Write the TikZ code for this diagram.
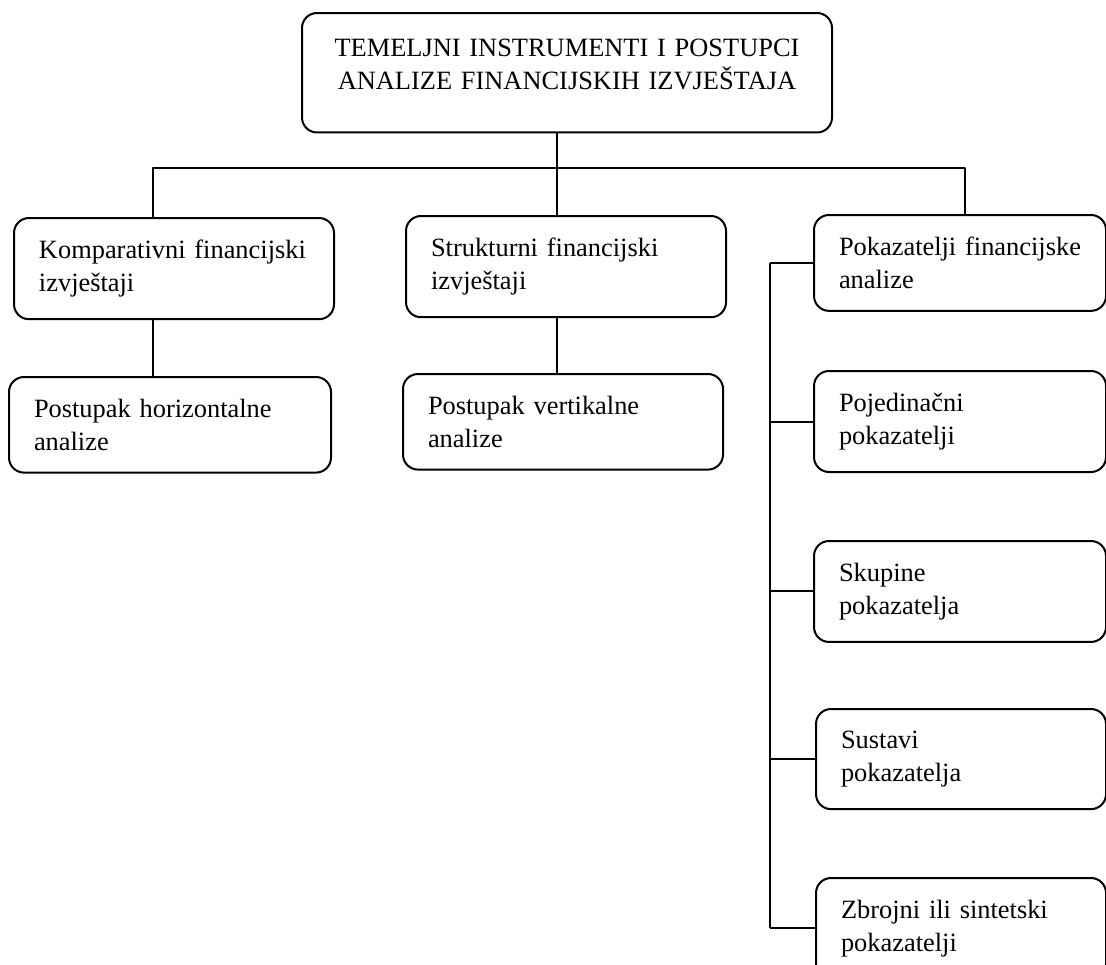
\documentclass[tikz,border=0pt]{standalone}
\usepackage{fontspec}
\setmainfont{Liberation Serif}
\tikzset{okvir/.style={draw, rounded corners=7.5pt, anchor=north west, align=left, inner xsep=12.5pt, inner ysep=11pt}}
\begin{document}
\begin{tikzpicture}[x=0.5pt, y=-0.5pt, line width=1pt, line join=round, font=\fontsize{13.2}{16.5}\selectfont]
\useasboundingbox (0,0) rectangle (1106,964);
\clip (0,0) rectangle (1106,964);
\node[okvir, align=center, text width=245pt, inner xsep=10pt, inner ysep=13pt] (vrh) at (301,12) {TEMELJNI INSTRUMENTI I POSTUPCI\\ANALIZE FINANCIJSKIH IZVJEŠTAJA\rule[-8.5pt]{0pt}{8.5pt}};
\node[okvir, text width=135pt] (komp) at (13,217) {Komparativni financijski\\izvještaji};
\node[okvir, text width=135pt] (strukt) at (405,215) {Strukturni financijski\\izvještaji};
\node[okvir, text width=121pt] (pokaz) at (813,214) {Pokazatelji financijske\\analize};
\node[okvir, text width=136pt] (horiz) at (8,376) {Postupak horizontalne\\analize};
\node[okvir, text width=135pt] (vert) at (402,373) {Postupak vertikalne\\analize};
\node[okvir, text width=121pt] (pojed) at (813,370) {Pojedinačni\\pokazatelji};
\node[okvir, text width=121pt] (skup) at (813,540) {Skupine\\pokazatelja};
\node[okvir, text width=120pt] (sust) at (815,708) {Sustavi\\pokazatelja};
\node[okvir, text width=120pt] (zbroj) at (815,877) {Zbrojni ili sintetski\\pokazatelji};
\path (153,168) coordinate (hl) (557,168) coordinate (hm) (965,168) coordinate (hr) (770,0) coordinate (sp);
\draw (vrh.south -| hm) -- (hm);
\draw (hl |- komp.north) -- (hl) -- (hr) -- (hr |- pokaz.north);
\draw (hm) -- (hm |- strukt.north);
\draw (komp.south -| hl) -- (horiz.north -| hl) (strukt.south -| hm) -- (vert.north -| hm);
\draw (sp |- pokaz.west) -- (sp |- zbroj.west);
\foreach \kut in {pokaz,pojed,skup,sust,zbroj} \draw (sp |- \kut.west) -- (\kut.west);
\end{tikzpicture}
\end{document}
